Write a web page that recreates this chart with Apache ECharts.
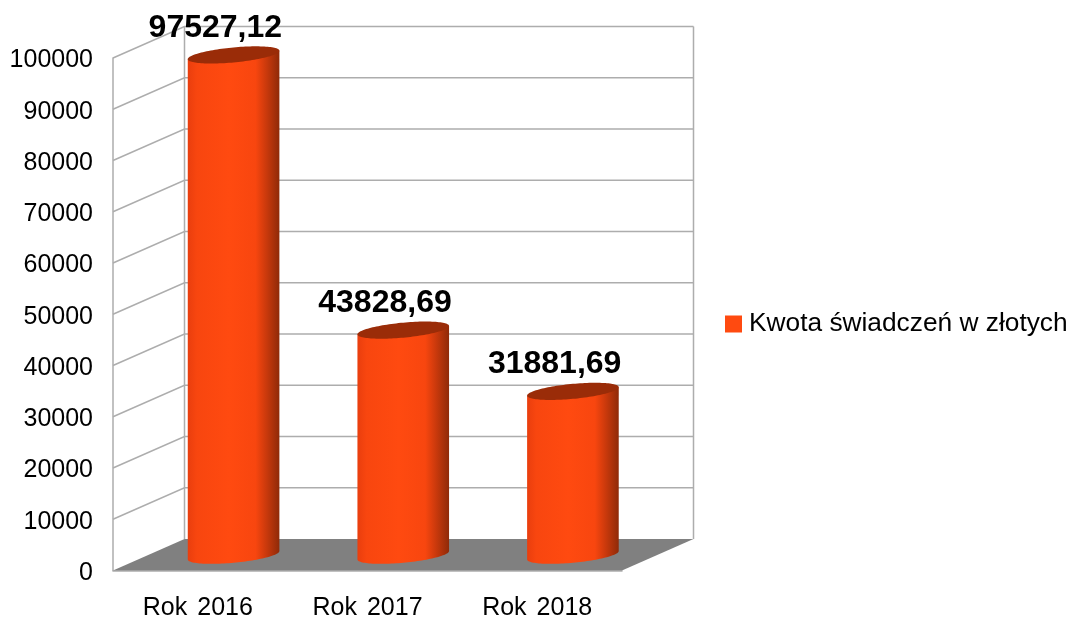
<!DOCTYPE html>
<html>
<head>
<meta charset="utf-8">
<style>html,body{margin:0;padding:0;background:#fff}#c{width:1072px;height:617px}</style>
<script src="https://cdn.jsdelivr.net/npm/echarts@6/dist/echarts.min.js"></script>
</head>
<body>
<div id="c"></div>
<script>
var categories = ['Rok 2016', 'Rok 2017', 'Rok 2018'];
var values = [97527.12, 43828.69, 31881.69];
var tickValues = [0, 10000, 20000, 30000, 40000, 50000, 60000, 70000, 80000, 90000, 100000];
var seriesName = 'Kwota świadczeń w złotych';

var DX = 71.5, DY = -31.5, FONT = '"Liberation Sans", Arial, sans-serif', GRID = '#adadad';
var chart = echarts.init(document.getElementById('c'), null, { renderer: 'canvas' });

function renderWalls(params, api) {
  var v = api.value(0);
  var f = api.coord([categories[0], v]);
  var x0 = params.coordSys.x, x1 = x0 + params.coordSys.width;
  var y = f[1];
  var children = [];
  if (v === 0) {
    var top = api.coord([categories[0], 100000])[1];
    children.push({ type: 'polygon', z2: 1, shape: { points: [[x0, y], [x0 + DX, y + DY], [x1 + DX, y + DY], [x1, y]] }, style: { fill: '#808080', stroke: null } });
    children.push({ type: 'polyline', z2: 2, shape: { points: [[x0 + DX, top + DY], [x0 + DX, y + DY]] }, style: { stroke: GRID, lineWidth: 1.5, fill: null } });
    children.push({ type: 'polyline', z2: 2, shape: { points: [[x1 + DX, top + DY], [x1 + DX, y + DY]] }, style: { stroke: GRID, lineWidth: 1.5, fill: null } });
  } else {
    children.push({ type: 'polyline', z2: 2, shape: { points: [[x0, y], [x0 + DX, y + DY], [x1 + DX, y + DY]] }, style: { stroke: GRID, lineWidth: 1.5, fill: null } });
  }
  return { type: 'group', children: children };
}

function renderCylinder(params, api) {
  var idx = api.value(0), val = api.value(1);
  var top = api.coord([idx, val]);
  var base = api.coord([idx, 0]);
  var a = api.size([1, 0])[0] * 0.27;
  var b = 7.5, s = 4.2;
  var cx = top[0] + DX / 2;
  var yt = top[1] + DY / 2;
  var yb = base[1] + DY / 2 + 0.5;
  var body = [], lid = [], n = 60, t, i;
  body.push([cx + a, yt - s]);
  for (i = 0; i <= n; i++) {
    t = Math.PI * i / n;
    body.push([cx + a * Math.cos(t), yb + b * Math.sin(t) - s * Math.cos(t)]);
  }
  body.push([cx - a, yt + s]);
  for (i = 0; i < n * 2; i++) {
    t = Math.PI * i / n;
    lid.push([cx + a * Math.cos(t), yt + b * Math.sin(t) - s * Math.cos(t)]);
  }
  var grad = new echarts.graphic.LinearGradient(0, 0, 1, 0, [
    { offset: 0, color: '#e93e0e' },
    { offset: 0.1, color: '#f8460f' },
    { offset: 0.45, color: '#ff4a10' },
    { offset: 0.74, color: '#f8460f' },
    { offset: 0.86, color: '#c9390c' },
    { offset: 1, color: '#8f2a08' }
  ]);
  return {
    type: 'group',
    children: [
      { type: 'polygon', shape: { points: body }, style: { fill: grad, stroke: null } },
      { type: 'polygon', shape: { points: lid }, style: { fill: '#9a2c08', stroke: null } },
      { type: 'text', style: {
          text: values[idx].toFixed(2).replace('.', ','),
          x: top[0] + 17.5, y: top[1] - 43,
          align: 'center', verticalAlign: 'middle',
          fill: '#000', font: 'bold 32px ' + FONT
      } }
    ]
  };
}

chart.setOption({
  animation: false,
  backgroundColor: '#fff',
  grid: { left: 113, width: 509, top: 58, height: 512.5, containLabel: false, outerBoundsMode: 'none' },
  legend: {
    left: 725, top: 311, padding: 0,
    itemWidth: 17, itemHeight: 17, itemGap: 0,
    icon: 'rect',
    data: [seriesName],
    textStyle: { fontFamily: FONT, fontSize: 26.3, color: '#000', padding: [0, 0, 0, 2] }
  },
  xAxis: {
    type: 'category',
    data: categories,
    axisLine: { show: true, lineStyle: { color: GRID, width: 1.5 } },
    axisTick: { show: false },
    axisLabel: {
      interval: 0,
      fontFamily: FONT, fontSize: 25, color: '#000', margin: 23,
      formatter: function (v) { return v.split(' ').map(function (w) { return '{w|' + w + '}'; }).join('{g| }'); },
      rich: { w: { fontFamily: FONT, fontSize: 25, color: '#000', lineHeight: 30 }, g: { fontFamily: FONT, fontSize: 36, color: '#000', lineHeight: 30 } }
    }
  },
  yAxis: {
    type: 'value', min: 0, max: 100000, interval: 10000,
    axisLine: { show: true, lineStyle: { color: GRID, width: 1.5 } },
    axisTick: { show: false },
    splitLine: { show: false },
    axisLabel: { fontFamily: FONT, fontSize: 25, color: '#000', margin: 20, verticalAlign: 'top', lineHeight: 5, formatter: function (v) { return String(v); } }
  },
  series: [
    {
      type: 'custom', name: 'walls', renderItem: renderWalls, clip: false, silent: true, z: 1,
      data: tickValues.map(function (v) { return [v]; }),
      encode: { y: 0 }
    },
    {
      type: 'custom', name: seriesName, renderItem: renderCylinder, clip: false, z: 3,
      itemStyle: { color: '#ff4a10' },
      data: values.map(function (v, i) { return [i, v]; }),
      encode: { x: 0, y: 1 }
    }
  ]
});
</script>
</body>
</html>
